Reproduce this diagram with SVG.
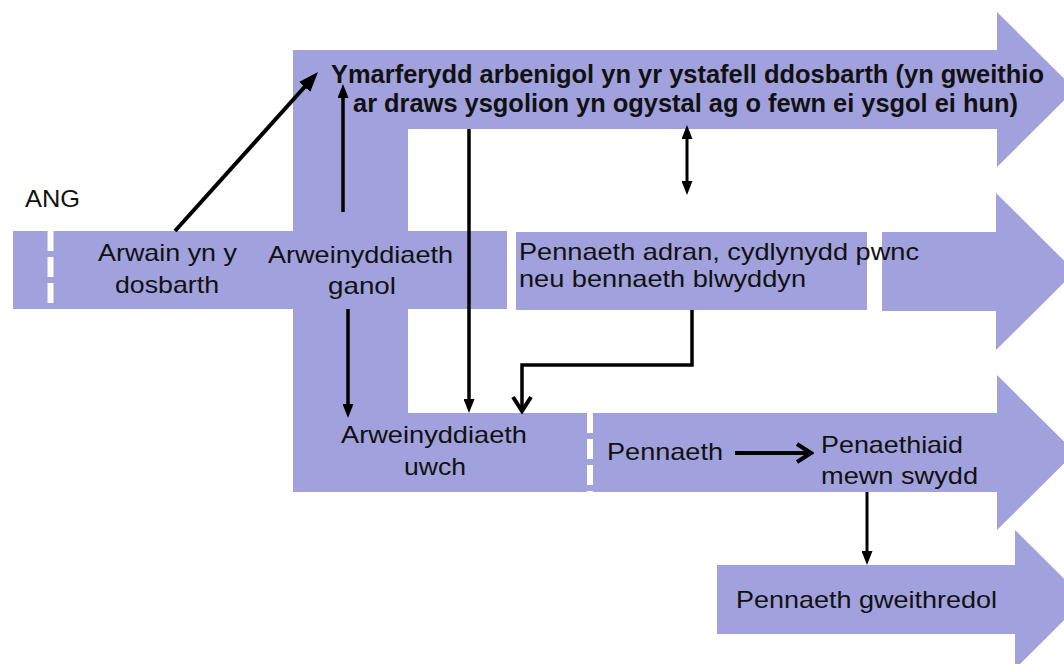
<svg xmlns="http://www.w3.org/2000/svg" width="1064" height="664" viewBox="0 0 1064 664">
  <defs>
    <style>
      .shape { fill: #a1a1dd; }
      .t { font-family: "Liberation Sans", Arial, sans-serif; font-size: 24px; fill: #111; }
      .bold { font-weight: bold; font-size: 25px; }
      .sep { stroke: #ffffff; stroke-width: 6; stroke-dasharray: 20 6; fill: none; }
      .conn { stroke: #000; stroke-width: 3.5; fill: none; }
    </style>
    <marker id="tri" markerUnits="userSpaceOnUse" viewBox="0 0 14 11" markerWidth="14" markerHeight="11" refX="8" refY="5.5" orient="auto-start-reverse">
      <path d="M0,0 L14,5.5 L0,11 Z" fill="#000"/>
    </marker>
    <marker id="triL" markerUnits="userSpaceOnUse" viewBox="0 0 20 15" markerWidth="20" markerHeight="15" refX="14" refY="7.5" orient="auto">
      <path d="M0,0 L20,7.5 L0,15 Z" fill="#000"/>
    </marker>
    <marker id="chev" markerUnits="userSpaceOnUse" viewBox="0 0 20 22" markerWidth="20" markerHeight="22" refX="16" refY="11" orient="auto">
      <path d="M3,2 L17,11 L3,20" fill="none" stroke="#000" stroke-width="4"/>
    </marker>
  </defs>

  <!-- ANG label -->
  <g id="node-ang">
    <text class="t" x="25" y="207" textLength="55" lengthAdjust="spacingAndGlyphs">ANG</text>
  </g>

  <!-- Left band: classroom leadership and middle leadership -->
  <g id="node-arwain">
    <rect class="shape" x="13" y="231" width="300" height="78"/>
    <line class="sep" x1="50.5" y1="231" x2="50.5" y2="309"/>
    <text class="t" x="98" y="261" textLength="139" lengthAdjust="spacingAndGlyphs">Arwain yn y</text>
    <text class="t" x="115" y="293" textLength="104" lengthAdjust="spacingAndGlyphs">dosbarth</text>
  </g>

  <g id="node-ganol">
    <rect class="shape" x="293" y="129" width="115" height="300"/>
    <rect class="shape" x="293" y="231" width="214" height="78"/>
    <text class="t" x="268" y="263" textLength="185" lengthAdjust="spacingAndGlyphs">Arweinyddiaeth</text>
    <text class="t" x="328" y="294" textLength="68" lengthAdjust="spacingAndGlyphs">ganol</text>
  </g>

  <!-- Top arrow: specialist practitioner -->
  <g id="node-ymarferydd">
    <polygon class="shape" points="293,50 997,50 997,12 1075,89.5 997,167 997,129 293,129"/>
    <text class="t bold" x="331" y="83" textLength="713" lengthAdjust="spacingAndGlyphs">Ymarferydd arbenigol yn yr ystafell ddosbarth (yn gweithio</text>
    <text class="t bold" x="353" y="112" textLength="665" lengthAdjust="spacingAndGlyphs">ar draws ysgolion yn ogystal ag o fewn ei ysgol ei hun)</text>
  </g>

  <!-- Second arrow: head of department / subject / year -->
  <g id="node-pennaeth-adran">
    <rect class="shape" x="516" y="232" width="351" height="78"/>
    <polygon class="shape" points="882,232 996,232 996,193 1075,271.5 996,350 996,311 882,311"/>
    <text class="t" x="519" y="260" textLength="400" lengthAdjust="spacingAndGlyphs">Pennaeth adran, cydlynydd pwnc</text>
    <text class="t" x="519" y="287" textLength="287" lengthAdjust="spacingAndGlyphs">neu bennaeth blwyddyn</text>
  </g>

  <!-- Senior leadership -->
  <g id="node-uwch">
    <rect class="shape" x="293" y="413" width="300" height="79"/>
    <text class="t" x="341" y="443" textLength="186" lengthAdjust="spacingAndGlyphs">Arweinyddiaeth</text>
    <text class="t" x="404" y="475" textLength="62" lengthAdjust="spacingAndGlyphs">uwch</text>
  </g>

  <!-- Third arrow: headteacher -->
  <g id="node-pennaeth">
    <polygon class="shape" points="587,413 997,413 997,375 1075,452.5 997,530 997,492 587,492"/>
    <line class="sep" x1="590" y1="413" x2="590" y2="492"/>
    <text class="t" x="607" y="460" textLength="116" lengthAdjust="spacingAndGlyphs">Pennaeth</text>
  </g>

  <g id="node-penaethiaid">
    <text class="t" x="821" y="453" textLength="142" lengthAdjust="spacingAndGlyphs">Penaethiaid</text>
    <text class="t" x="821" y="484" textLength="157" lengthAdjust="spacingAndGlyphs">mewn swydd</text>
  </g>

  <!-- Bottom arrow: executive head -->
  <g id="node-gweithredol">
    <polygon class="shape" points="717,565 1015,565 1015,530 1085,599.5 1015,669 1015,634 717,634"/>
    <text class="t" x="736" y="608" textLength="261" lengthAdjust="spacingAndGlyphs">Pennaeth gweithredol</text>
  </g>

  <!-- Connectors -->
  <g id="connectors">
    <line class="conn" style="stroke-width:4" x1="175" y1="231" x2="314" y2="76.5" marker-end="url(#triL)"/>
    <line class="conn" x1="343" y1="212" x2="343" y2="90" marker-end="url(#tri)"/>
    <line class="conn" x1="469" y1="129" x2="469" y2="407" marker-end="url(#tri)"/>
    <line class="conn" style="stroke-width:3" x1="687" y1="131" x2="687" y2="189" marker-start="url(#tri)" marker-end="url(#tri)"/>
    <line class="conn" x1="348" y1="309" x2="348" y2="412" marker-end="url(#tri)"/>
    <path class="conn" d="M692,310 V365 H522 V410" marker-end="url(#chev)"/>
    <line class="conn" style="stroke-width:4" x1="735" y1="453" x2="810" y2="453" marker-end="url(#chev)"/>
    <line class="conn" style="stroke-width:3" x1="867" y1="492" x2="867" y2="559" marker-end="url(#tri)"/>
  </g>
</svg>
